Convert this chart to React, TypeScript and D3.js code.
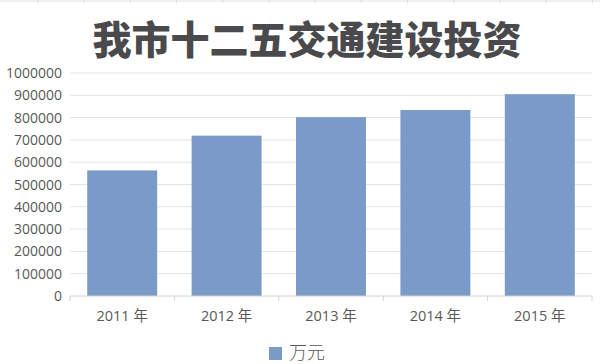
import React from 'react';
import * as d3 from 'd3';

const years = ['2011 年', '2012 年', '2013 年', '2014 年', '2015 年'];
const investment = [563000, 719000, 802000, 834000, 905000];
const yTicks = [0, 100000, 200000, 300000, 400000, 500000, 600000, 700000, 800000, 900000, 1000000];
const seriesName = '万元';
const title = '我市十二五交通建设投资';

const width = 600;
const height = 364;
const margin = { top: 73, right: 8, bottom: 68, left: 70 };
const barColor = '#7a9bc8';
const textColor = '#595959';
const labelFont = '"Open Sans", "Noto Sans CJK SC", sans-serif';

export default function App() {
  const x = d3
    .scaleBand()
    .domain(years)
    .range([margin.left, width - margin.right])
    .paddingInner(0.33)
    .paddingOuter(0.165);

  const y = d3
    .scaleLinear()
    .domain([0, 1000000])
    .range([height - margin.bottom, margin.top]);

  const step = x.step();
  const bandStart = (d: string) => (x(d) as number) - step * 0.165;

  // faint spreadsheet cell border along the top edge
  const cellEdges = d3.range(38, width, 46.2);

  return (
    <svg
      width={width}
      height={height}
      style={{ position: 'absolute', left: 0, top: 0, background: '#fff' }}
    >
      <line x1={0} x2={width} y1={1} y2={1} stroke="#e2e2e2" />
      {cellEdges.map((cx) => (
        <line key={cx} x1={cx} x2={cx} y1={0} y2={3} stroke="#dadada" />
      ))}

      <text
        x={307}
        y={54}
        textAnchor="middle"
        fontFamily='"Noto Sans CJK SC", sans-serif'
        fontWeight={900}
        fontSize={39}
        fill="#4a4a4d"
      >
        {title}
      </text>

      <g>
        {yTicks.slice(1).map((t) => (
          <line
            key={t}
            x1={margin.left}
            x2={width - margin.right}
            y1={y(t)}
            y2={y(t)}
            stroke="#e3e3e3"
          />
        ))}
      </g>

      <g fontFamily={labelFont} fontSize={14} fill={textColor} textAnchor="end">
        {yTicks.map((t) => (
          <text key={t} x={62} y={y(t)} dy="0.36em">
            {t}
          </text>
        ))}
      </g>

      <g fill={barColor}>
        {years.map((d, i) => (
          <rect
            key={d}
            x={x(d)}
            y={y(investment[i])}
            width={x.bandwidth()}
            height={y(0) - y(investment[i])}
          />
        ))}
      </g>

      <g stroke="#d4d4d4">
        <line
          x1={margin.left}
          x2={width - margin.right}
          y1={y(0)}
          y2={y(0)}
        />
        {years.map((d) => (
          <line key={d} x1={bandStart(d)} x2={bandStart(d)} y1={y(0)} y2={y(0) + 5} />
        ))}
        <line
          x1={width - margin.right}
          x2={width - margin.right}
          y1={y(0)}
          y2={y(0) + 5}
        />
      </g>

      <g fontFamily={labelFont} fontSize={14.5} fill={textColor} textAnchor="middle">
        {years.map((d) => (
          <text key={d} x={(x(d) as number) + x.bandwidth() / 2} y={y(0) + 25}>
            {d}
          </text>
        ))}
      </g>

      <g>
        <rect x={269} y={347} width={13} height={13} fill={barColor} />
        <text
          x={289}
          y={359}
          fontFamily='"Noto Sans CJK SC", sans-serif'
          fontWeight={300}
          fontSize={18}
          fill={textColor}
        >
          {seriesName}
        </text>
      </g>
    </svg>
  );
}
